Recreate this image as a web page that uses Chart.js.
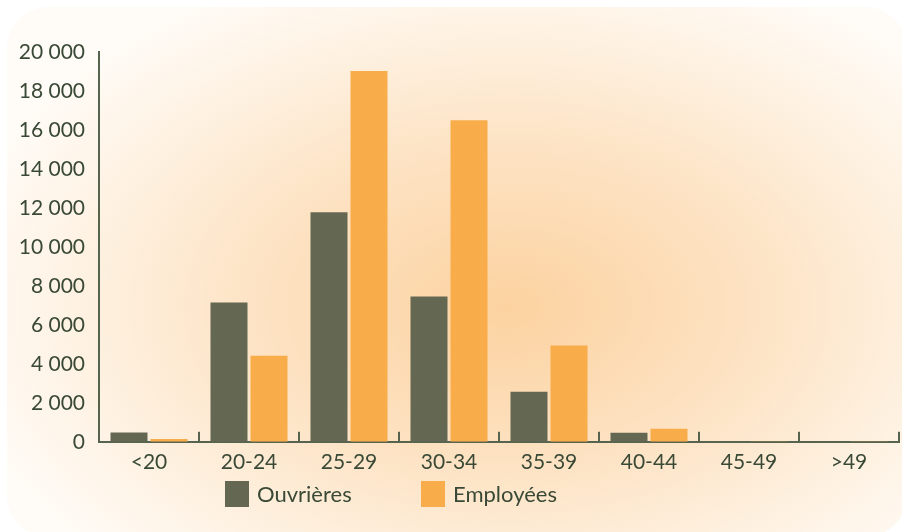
<!DOCTYPE html>
<html>
<head>
<meta charset="utf-8">
<script src="https://cdn.jsdelivr.net/npm/chart.js@4"></script>
<style>
    html, body { margin: 0; padding: 0; background: #ffffff; }
    #wrap { position: relative; width: 902px; height: 532px; overflow: hidden; }
    #bg {
        position: absolute; left: 7px; top: 7px; width: 900px; height: 530px;
        border-radius: 42px;
        background: radial-gradient(ellipse 560px 360px at 500px 300px, #fcd2a0 0%, #fde3c4 45%, #fef3e5 80%, #fffbf6 100%);
    }
    #chart { position: absolute; left: 0; top: 0; }
    #legend {
        position: absolute; left: 225px; top: 480px; display: flex;
        font-family: Lato, "Open Sans", sans-serif; font-size: 22px; color: #394936;
    }
    .item { display: flex; align-items: center; width: 196px; }
    .box { width: 24px; height: 26px; margin-right: 8px; }
</style>
</head>
<body>
<div id="wrap">
    <div id="bg"></div>
    <canvas id="chart" width="902" height="532"></canvas>
    <div id="legend"></div>
</div>
<script>
    const categories = ['<20', '20-24', '25-29', '30-34', '35-39', '40-44', '45-49', '>49'];
    const ouvrieres = [480, 7150, 11780, 7450, 2570, 470, 30, 20];
    const employees = [150, 4420, 19020, 16500, 4940, 670, 20, 10];
    const yTicks = [0, 2000, 4000, 6000, 8000, 10000, 12000, 14000, 16000, 18000, 20000];

    const textColor = '#394936';
    const axisColor = '#56634f';

    function formatThousands(v) {
        return String(v).replace(/\B(?=(\d{3})+(?!\d))/g, ' ');
    }

    // small upward tick marks between categories on the x axis
    const categoryTicks = {
        id: 'categoryTicks',
        afterDatasetsDraw(chart) {
            const x = chart.scales.x;
            const ctx = chart.ctx;
            const half = (x.getPixelForTick(1) - x.getPixelForTick(0)) / 2;
            ctx.save();
            ctx.strokeStyle = axisColor;
            ctx.lineWidth = 2;
            for (let i = 0; i < categories.length; i++) {
                const px = Math.round(x.getPixelForTick(i) + half);
                ctx.beginPath();
                ctx.moveTo(px, x.top);
                ctx.lineTo(px, x.top - 10);
                ctx.stroke();
            }
            ctx.restore();
        }
    };

    const chart = new Chart(document.getElementById('chart'), {
        type: 'bar',
        data: {
            labels: categories,
            datasets: [
                { label: 'Ouvrières', data: ouvrieres, backgroundColor: '#646853' },
                { label: 'Employées', data: employees, backgroundColor: '#f9ac4a' }
            ]
        },
        options: {
            responsive: false,
            animation: false,
            datasets: { bar: { categoryPercentage: 0.8, barPercentage: 0.925 } },
            layout: { padding: { top: 52, right: 3, bottom: 49, left: 0 } },
            plugins: { legend: { display: false }, tooltip: { enabled: false } },
            scales: {
                x: {
                    grid: { display: false, drawTicks: false },
                    border: { color: axisColor, width: 2 },
                    ticks: {
                        color: textColor, padding: 8,
                        font: { family: 'Lato, "Open Sans", sans-serif', size: 21 }
                    }
                },
                y: {
                    min: 0, max: 20000,
                    afterBuildTicks: (s) => { s.ticks = yTicks.map(v => ({ value: v })); },
                    afterFit: (s) => { s.width = 99; },
                    grid: { display: false, drawTicks: false },
                    border: { color: axisColor, width: 2 },
                    ticks: {
                        color: textColor, padding: 14,
                        font: { family: 'Lato, "Open Sans", sans-serif', size: 21 },
                        callback: (v) => formatThousands(v)
                    }
                }
            }
        },
        plugins: [categoryTicks]
    });

    // legend as html, built from the datasets
    const legend = document.getElementById('legend');
    chart.data.datasets.forEach(ds => {
        const item = document.createElement('div');
        item.className = 'item';
        item.innerHTML = '<div class="box" style="background:' + ds.backgroundColor + '"></div><span>' + ds.label + '</span>';
        legend.appendChild(item);
    });
</script>
</body>
</html>
